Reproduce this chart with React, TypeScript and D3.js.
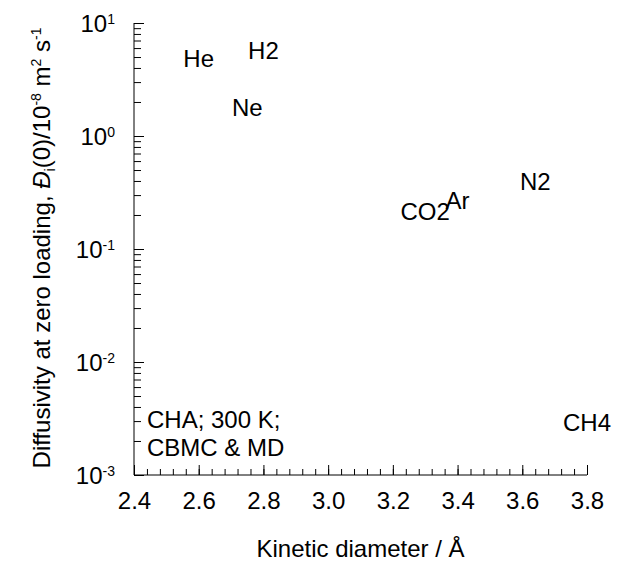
import { useEffect, useRef } from "react";
import * as d3 from "d3";

// molecule labels drawn at (kinetic diameter, zero-loading diffusivity)
const molecules = ["He", "H2", "Ne", "CO2", "Ar", "N2", "CH4"];
const kineticDiameter = [2.6, 2.8, 2.75, 3.3, 3.4, 3.64, 3.8];
const diffusivity = [4.85, 5.7, 1.8, 0.215, 0.268, 0.4, 0.00294];

const xTicks = [2.4, 2.6, 2.8, 3.0, 3.2, 3.4, 3.6, 3.8];
const yDecadeExp = [-3, -2, -1, 0, 1];

const W = 619;
const H = 564;
const FONT = "Liberation Sans, Arial, sans-serif";
const FS = 24;
const SUP = 14;

export default function App() {
  const svgRef = useRef<SVGSVGElement>(null);

  useEffect(() => {
    if (!svgRef.current) return;
    const svg = d3.select(svgRef.current);
    svg.selectAll("*").remove();

    const margin = { top: 23, right: 32, bottom: 89, left: 134 };
    const width = W - margin.left - margin.right;
    const height = H - margin.top - margin.bottom;

    const g = svg
      .append("g")
      .attr("transform", `translate(${margin.left},${margin.top})`)
      .style("font-family", FONT);

    const x = d3.scaleLinear().domain([2.4, 3.8]).range([0, width]);
    const y = d3.scaleLog().domain([1e-3, 10]).range([height, 0]);

    // minor x ticks (every 0.04), pointing inward
    const xMinor = d3.range(0, 36).map((i) => 2.4 + i * 0.04);
    g.append("g")
      .attr("transform", `translate(0,${height})`)
      .call(d3.axisBottom(x).tickValues(xMinor).tickSize(-6).tickFormat(() => ""))
      .call((a) => a.select(".domain").remove())
      .selectAll("line")
      .attr("stroke", "#000");

    // major x ticks + labels
    const xAxis = g
      .append("g")
      .attr("transform", `translate(0,${height})`)
      .call(
        d3
          .axisBottom(x)
          .tickValues(xTicks)
          .tickSize(-10)
          .tickPadding(17)
          .tickFormat((d) => (d as number).toFixed(1))
      );
    xAxis.select(".domain").attr("stroke", "#000").attr("d", `M0,0H${width}`);
    xAxis.selectAll("line").attr("stroke", "#000");
    xAxis
      .selectAll("text")
      .attr("fill", "#000")
      .style("font-size", `${FS}px`)
      .style("font-family", FONT);

    // y axis minor ticks (2..9 of each decade)
    const yMinor = y.ticks().filter((v) => {
      const m = Math.round(v / Math.pow(10, Math.floor(Math.log10(v) + 1e-9)));
      return m !== 1;
    });
    g.append("g")
      .call(d3.axisLeft(y).tickValues(yMinor).tickSize(-7).tickFormat(() => ""))
      .call((a) => a.select(".domain").remove())
      .selectAll("line")
      .attr("stroke", "#000");

    // y axis major ticks
    const yMajor = yDecadeExp.map((e) => Math.pow(10, e));
    const yAxis = g
      .append("g")
      .call(d3.axisLeft(y).tickValues(yMajor).tickSize(-10).tickFormat(() => ""));
    yAxis.select(".domain").attr("stroke", "#000").attr("d", `M0,0V${height}`);
    yAxis.selectAll("line").attr("stroke", "#000");

    // y tick labels 10^n
    const yLab = g
      .selectAll(".ylab")
      .data(yDecadeExp)
      .enter()
      .append("text")
      .attr("class", "ylab")
      .attr("x", -19)
      .attr("y", (e) => y(Math.pow(10, e)))
      .attr("text-anchor", "end")
      .style("font-size", `${FS}px`)
      .attr("fill", "#000");
    yLab.append("tspan").attr("dy", "0.36em").text("10");
    yLab
      .append("tspan")
      .attr("dy", -8)
      .style("font-size", `${SUP}px`)
      .text((e) => String(e));

    // molecule labels
    g.selectAll(".mol")
      .data(molecules)
      .enter()
      .append("text")
      .attr("class", "mol")
      .attr("x", (_, i) => x(kineticDiameter[i]))
      .attr("y", (_, i) => y(diffusivity[i]))
      .attr("dy", "0.36em")
      .attr("text-anchor", "middle")
      .style("font-size", `${FS}px`)
      .attr("fill", "#000")
      .text((d) => d);

    // annotation
    const note = g
      .append("text")
      .style("font-size", `${FS}px`)
      .attr("fill", "#000");
    note.append("tspan").attr("x", 13).attr("y", 428 - margin.top).text("CHA; 300 K;");
    note.append("tspan").attr("x", 13).attr("y", 455.5 - margin.top).text("CBMC & MD");

    // x title
    g.append("text")
      .attr("x", width / 2)
      .attr("y", height + 82)
      .attr("text-anchor", "middle")
      .style("font-size", `${FS}px`)
      .attr("fill", "#000")
      .text("Kinetic diameter / Å");

    // y title
    const yt = g
      .append("text")
      .attr("transform", `translate(${-84},${height / 2 - 1}) rotate(-90)`)
      .attr("text-anchor", "middle")
      .style("font-size", `${FS}px`)
      .attr("fill", "#000");
    yt.append("tspan").text("Diffusivity at zero loading, ");
    yt.append("tspan").style("font-style", "italic").text("Đ");
    yt.append("tspan").attr("dy", 5).style("font-size", `${SUP}px`).text("i");
    yt.append("tspan").attr("dy", -5).text("(0)/10");
    yt.append("tspan").attr("dy", -9).style("font-size", `${SUP}px`).text("-8");
    yt.append("tspan").attr("dy", 9).text(" m");
    yt.append("tspan").attr("dy", -9).style("font-size", `${SUP}px`).text("2");
    yt.append("tspan").attr("dy", 9).text(" s");
    yt.append("tspan").attr("dy", -9).style("font-size", `${SUP}px`).text("-1");
  }, []);

  return (
    <svg
      ref={svgRef}
      width={W}
      height={H}
      style={{ position: "absolute", left: 0, top: 0, background: "#fff" }}
    />
  );
}
